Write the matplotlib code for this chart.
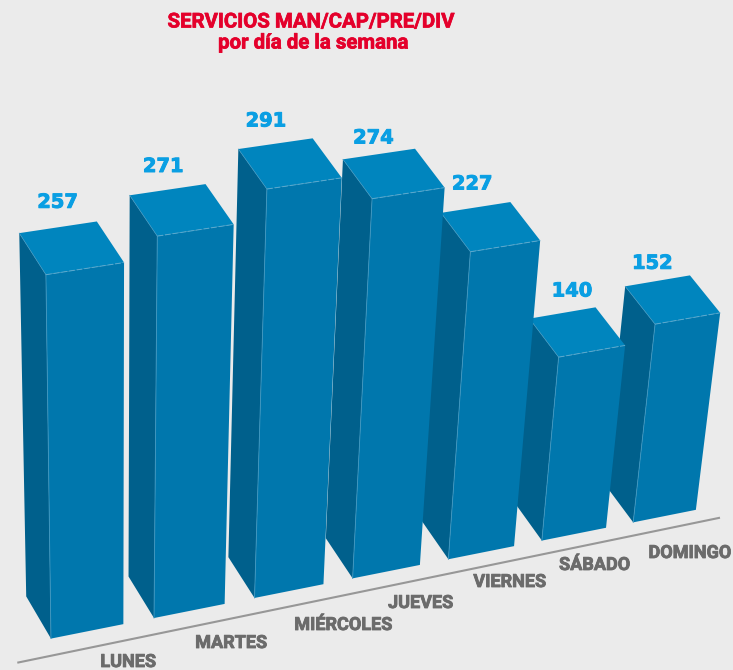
import numpy as np
import matplotlib
matplotlib.use('Agg')
import matplotlib.pyplot as plt
import matplotlib.patheffects as pe

# datos
dias = ['LUNES', 'MARTES', 'MIÉRCOLES', 'JUEVES', 'VIERNES', 'SÁBADO', 'DOMINGO']
servicios = [257, 271, 291, 274, 227, 140, 152]

# posicion de los textos (a mano, como en el original)
dia_xy = [(128, 662), (231, 643), (343, 625), (420.5, 603), (509.5, 582), (594.5, 565), (689.7, 553)]
valor_xy = [(57.7, 202.3), (163.3, 166.5), (266, 121), (373.5, 138), (472.3, 184), (572, 291), (652.5, 263.3)]

# camara: (columna, fondo, altura/100) -> pixel
CAM = np.array([[104.969, -24.4811, -3.28099, 50.9631],
                [-12.8324, -36.154, -149.453, 638.59],
                [0.0125241, 0.0101237, -0.0286244, 1.0]])
ANCHO = 0.7

FONDO = '#ebebeb'
C_TOP = '#0085be'
C_FRONT = '#0077ad'
C_SIDE = '#00608c'
C_EDGE = '#3f97c0'


def proy(x, y, z):
    q = CAM @ np.array([x, y, z, 1.0])
    return q[0] / q[2], q[1] / q[2]


def grueso(color, w):
    return [pe.withStroke(linewidth=w, foreground=color)]


fig = plt.figure(figsize=(7.33, 6.7), dpi=100, facecolor=FONDO)
ax = fig.add_axes([0, 0, 1, 1])
ax.set_xlim(0, 733)
ax.set_ylim(670, 0)
ax.axis('off')

ax.plot([17.3, 720], [662.7, 517.7], color='#979797', lw=1.5, zorder=1, solid_capstyle='butt')

# de atras hacia adelante para que tape bien
for i in range(len(servicios) - 1, -1, -1):
    h = servicios[i] / 100
    x0, x1 = i, i + ANCHO
    side = [proy(x0, 1, h), proy(x0, 0, h), proy(x0, 0, 0), proy(x0, 1, 0)]
    top = [proy(x0, 1, h), proy(x1, 1, h), proy(x1, 0, h), proy(x0, 0, h)]
    front = [proy(x0, 0, h), proy(x1, 0, h), proy(x1, 0, 0), proy(x0, 0, 0)]
    z = 10 + (len(servicios) - i)
    ax.fill(*zip(*side), color=C_SIDE, lw=0, zorder=z)
    ax.fill(*zip(*top), color=C_TOP, lw=0, zorder=z)
    ax.fill(*zip(*front), color=C_FRONT, lw=0, zorder=z)
    ax.plot(*zip(front[0], front[3]), color=C_EDGE, lw=0.6, zorder=z)
    ax.plot(*zip(top[0], top[3]), color=C_EDGE, lw=0.5, zorder=z)
    ax.plot(*zip(front[0], front[1]), color='#5aa9ce', lw=0.7, ls=(0, (6, 2)), zorder=z)

for d, (x, y) in zip(dias, dia_xy):
    ax.text(x, y, d, ha='center', va='center', family='Roboto', weight='bold', fontsize=13, color='#6b6b6b',
            zorder=30, path_effects=grueso('#6b6b6b', 0.6))

for v, (x, y) in zip(servicios, valor_xy):
    ax.text(x, y, str(v), ha='center', va='center', family='DejaVu Sans', weight='bold', fontsize=14, color='#0a9fe3',
            zorder=30, path_effects=grueso('#0a9fe3', 0.7))

ax.text(311, 22, 'SERVICIOS MAN/CAP/PRE/DIV', ha='center', va='center', family='Roboto', weight='bold', fontsize=14.7,
        color='#e4002b', zorder=30, path_effects=grueso('#e4002b', 0.5))
ax.text(313, 43, 'por día de la semana', ha='center', va='center', family='Roboto', weight='bold', fontsize=14.7,
        color='#e4002b', zorder=30, path_effects=grueso('#e4002b', 0.5))

fig.savefig('out.png', dpi=100, facecolor=FONDO)
